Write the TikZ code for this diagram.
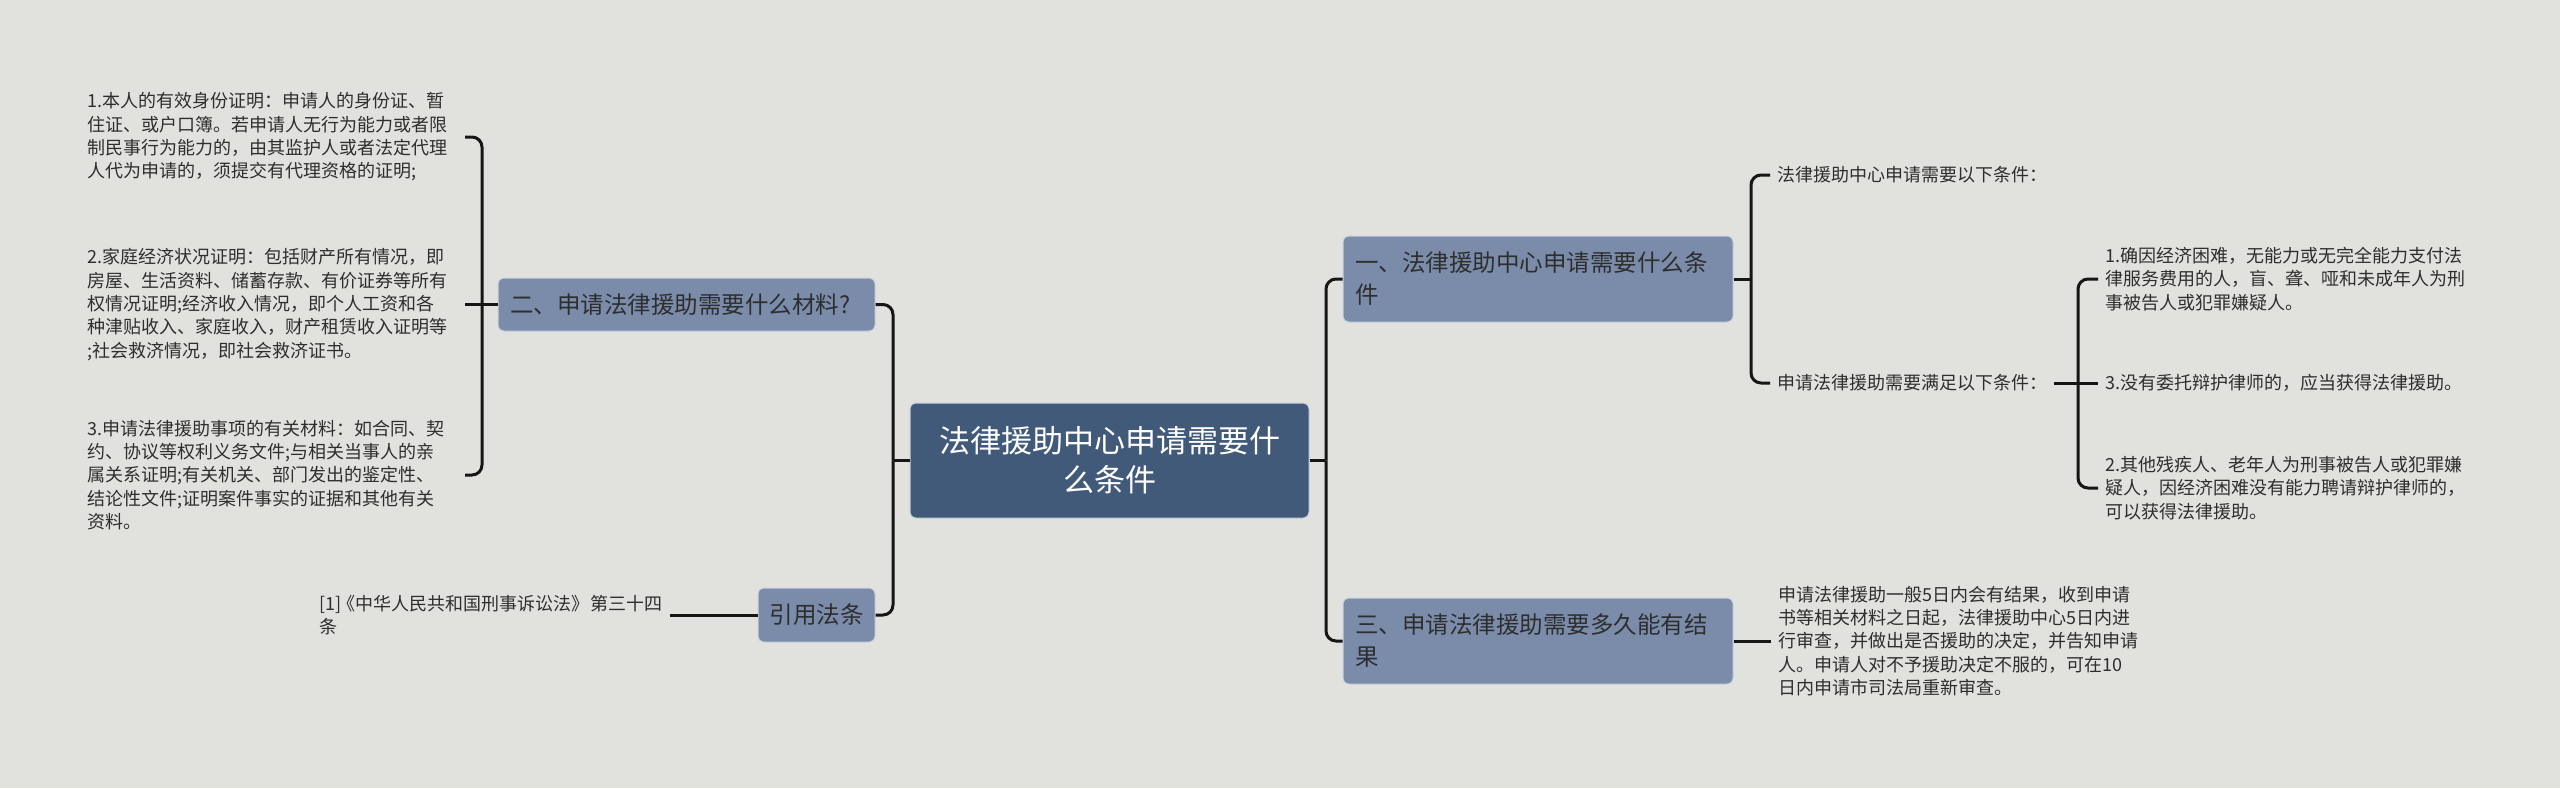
\documentclass[tikz,border=0pt]{standalone}
\usepackage{fontspec}
\setmainfont{Noto Sans CJK SC}
\definecolor{bg}{HTML}{E1E2DE}
\definecolor{mainfill}{HTML}{7A8CAA}
\definecolor{centerfill}{HTML}{425A7A}
\definecolor{boxline}{HTML}{C9D1DC}
\definecolor{txt}{HTML}{2E2E2E}
\definecolor{linec}{HTML}{161616}
\tikzset{
  conn/.style={draw=linec, line width=3pt, rounded corners=10pt},
  centerbox/.style={rectangle, rounded corners=6pt, fill=centerfill, draw=boxline, line width=1pt,
    minimum width=399pt, minimum height=115pt, inner sep=0pt, align=center, text=white,
    font=\fontsize{31}{39}\selectfont},
  mainbox/.style={rectangle, rounded corners=6pt, fill=mainfill, draw=boxline, line width=1pt,
    inner xsep=12pt, inner ysep=0pt, align=left, text=txt,
    font=\fontsize{23.5}{32}\selectfont},
  leaf/.style={inner xsep=7pt, inner ysep=2pt, align=left, text=txt,
    font=\fontsize{18}{23.3}\selectfont},
}
\begin{document}
\begin{tikzpicture}[x=1pt, y=-1pt]
\fill[bg] (0,0) rectangle (2560,788);
\useasboundingbox (0,0) rectangle (2560,788);

% central node
\node[centerbox] (c) at (1109.5,460.5) {法律援助中心申请需要什\\么条件};

% left branch
\node[mainbox, text width=353pt, minimum height=53pt] (n2) at (686.5,304.5) {二、申请法律援助需要什么材料?};
\node[mainbox, align=center, inner xsep=0pt, minimum width=117pt, minimum height=54pt] (ref) at (816.5,615) {引用法条};

\node[leaf, anchor=east, text width=370pt] (l1) at (465,137) {1.本人的有效身份证明：申请人的身份证、暂\\住证、或户口簿。若申请人无行为能力或者限\\制民事行为能力的，由其监护人或者法定代理\\人代为申请的，须提交有代理资格的证明;};
\node[leaf, anchor=east, text width=370pt] (l2) at (465,304.5) {2.家庭经济状况证明：包括财产所有情况，即\\房屋、生活资料、储蓄存款、有价证券等所有\\权情况证明;经济收入情况，即个人工资和各\\种津贴收入、家庭收入，财产租赁收入证明等\\;社会救济情况，即社会救济证书。};
\node[leaf, anchor=east, text width=370pt] (l3) at (465,475) {3.申请法律援助事项的有关材料：如合同、契\\约、协议等权利义务文件;与相关当事人的亲\\属关系证明;有关机关、部门发出的鉴定性、\\结论性文件;证明案件事实的证据和其他有关\\资料。};
\node[leaf, anchor=east] (lref) at (670,615) {[1]\kern-4pt《中华人民共和国刑事诉讼法》\kern-3pt\ 第三十四\\条};

% right branch
\node[mainbox, text width=366pt, minimum height=86pt] (n1) at (1538,279) {一、法律援助中心申请需要什么条\\件};
\node[mainbox, text width=366pt, minimum height=86pt] (n3) at (1538,641) {三、申请法律援助需要多久能有结\\果};

\node[leaf, anchor=west] (la) at (1770,175) {法律援助中心申请需要以下条件：};
\node[leaf, anchor=west] (lb) at (1770,383) {申请法律援助需要满足以下条件：};
\node[leaf, anchor=west] (lc1) at (2098,279) {1.确因经济困难，无能力或无完全能力支付法\\律服务费用的人，盲、聋、哑和未成年人为刑\\事被告人或犯罪嫌疑人。};
\node[leaf, anchor=west] (lc3) at (2098,383) {3.没有委托辩护律师的，应当获得法律援助。};
\node[leaf, anchor=west] (lc2) at (2098,488) {2.其他残疾人、老年人为刑事被告人或犯罪嫌\\疑人，因经济困难没有能力聘请辩护律师的，\\可以获得法律援助。};
\node[leaf, anchor=west] (lr) at (1771,641) {申请法律援助一般5日内会有结果，收到申请\\书等相关材料之日起，法律援助中心5日内进\\行审查，并做出是否援助的决定，并告知申请\\人。申请人对不予援助决定不服的，可在10\\日内申请市司法局重新审查。};

% junctions
\coordinate (jC) at (893,460.5);
\coordinate (jR) at (1326,460.5);
\coordinate (jL) at (482,304.5);
\coordinate (jR1) at (1751,279);
\coordinate (jR2) at (2078,383);

% connectors
\draw[conn] (c.west) -- (jC);
\draw[conn] (jC) |- (n2.east);
\draw[conn] (jC) |- (ref.east);
\draw[conn] (n2.west) -- (l2.east);
\draw[conn] (jL) |- (l1.east);
\draw[conn] (jL) |- (l3.east);
\draw[conn] (ref.west) -- (lref.east);

\draw[conn] (c.east) -- (jR);
\draw[conn] (jR) |- (n1.west);
\draw[conn] (jR) |- (n3.west);
\draw[conn] (n1.east) -- (jR1);
\draw[conn] (jR1) |- (la.west);
\draw[conn] (jR1) |- (lb.west);
\draw[conn] (lb.east) -- (lc3.west);
\draw[conn] (jR2) |- (lc1.west);
\draw[conn] (jR2) |- (lc2.west);
\draw[conn] (n3.east) -- (lr.west);
\end{tikzpicture}
\end{document}
